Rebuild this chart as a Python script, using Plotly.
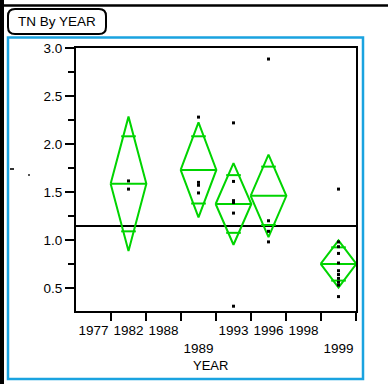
import plotly.graph_objects as go

# ---- data -------------------------------------------------------------
years = ["1977", "1982", "1988", "1989", "1993", "1996", "1998", "1999"]
year_labels = ["1977", "1982", "1988", "<br>1989", "1993", "1996", "1998", "<br>1999"]

# observed TN values by year (years with no samples are left empty)
tn_1982 = [1.615, 1.53]
tn_1989 = [2.28, 1.60, 1.57, 1.49]
tn_1993 = [2.22, 1.61, 1.41, 1.39, 1.28, 0.31]
tn_1996 = [2.885, 1.20, 1.09, 0.98]
tn_1999 = [1.53, 0.98, 0.93, 0.86, 0.76, 0.68, 0.64, 0.60, 0.56, 0.53, 0.41]
tn_by_year = {"1982": tn_1982, "1989": tn_1989, "1993": tn_1993,
              "1996": tn_1996, "1999": tn_1999}

# means diamonds: group mean and 95% CI half-width
diamond_years = ["1982", "1989", "1993", "1996", "1999"]
group_means = [1.585, 1.73, 1.375, 1.46, 0.75]
ci_half = [0.70, 0.495, 0.425, 0.43, 0.245]
grand_mean = 1.145

y_ticks = [0.5, 1.0, 1.5, 2.0, 2.5, 3.0]

# ---- layout geometry (pixels) ----------------------------------------
W, H = 388, 384
L, R, T, B = 76, 356, 48, 311


def px(x):
    return (x - L) / (R - L)


def py(y):
    return (B - y) / (B - T)


GREEN = "#00d400"
BLUE = "#1aa3e0"
pos = {y: i + 0.5 for i, y in enumerate(years)}
hw = 0.51  # diamond half-width in category units

fig = go.Figure()

# grand mean line
fig.add_trace(go.Scatter(x=[0, len(years)], y=[grand_mean, grand_mean], mode="lines",
                         line=dict(color="black", width=2), hoverinfo="skip"))

# means diamonds
k = 1 / 2 ** 0.5
for yr, m, c in zip(diamond_years, group_means, ci_half):
    xc = pos[yr]
    fig.add_trace(go.Scatter(
        x=[xc - hw, xc, xc + hw, xc, xc - hw, None, xc - hw, xc + hw],
        y=[m, m + c, m, m - c, m, None, m, m],
        mode="lines", line=dict(color=GREEN, width=2), hoverinfo="skip"))
    ow = hw * (1 - k) + 0.06
    fig.add_trace(go.Scatter(
        x=[xc - ow, xc + ow, None, xc - ow, xc + ow],
        y=[m + c * k, m + c * k, None, m - c * k, m - c * k],
        mode="lines", line=dict(color=GREEN, width=2), hoverinfo="skip"))

# raw observations
for yr, vals in tn_by_year.items():
    fig.add_trace(go.Scatter(x=[pos[yr]] * len(vals), y=vals, mode="markers",
                             marker=dict(symbol="square", size=3, color="black",
                                         line=dict(width=0))))

shapes = [
    # outer window frame
    dict(type="rect", xref="paper", yref="paper", x0=px(0), x1=px(4), y0=py(384), y1=py(0),
         fillcolor="black", line=dict(width=0), layer="below"),
    dict(type="line", xref="paper", yref="paper", x0=px(0), x1=px(388), y0=py(5.5), y1=py(5.5),
         line=dict(color="black", width=2.5)),
    dict(type="rect", xref="paper", yref="paper", x0=px(8), x1=px(363), y0=py(379), y1=py(37.5),
         line=dict(color=BLUE, width=2.5)),
    # small stray marks left of the axis
    dict(type="rect", xref="paper", yref="paper", x0=px(10), x1=px(14), y0=py(170), y1=py(168),
         fillcolor="#333", line=dict(width=0)),
    dict(type="rect", xref="paper", yref="paper", x0=px(28), x1=px(30), y0=py(176), y1=py(174),
         fillcolor="#555", line=dict(width=0)),
]

# rounded title box
x0, x1, y0, y1, r = 8, 106, 9, 34, 7
path = (f"M {px(x0 + r)},{py(y0)} L {px(x1 - r)},{py(y0)} Q {px(x1)},{py(y0)} {px(x1)},{py(y0 + r)} "
        f"L {px(x1)},{py(y1 - r)} Q {px(x1)},{py(y1)} {px(x1 - r)},{py(y1)} "
        f"L {px(x0 + r)},{py(y1)} Q {px(x0)},{py(y1)} {px(x0)},{py(y1 - r)} "
        f"L {px(x0)},{py(y0 + r)} Q {px(x0)},{py(y0)} {px(x0 + r)},{py(y0)} Z")
shapes.append(dict(type="path", xref="paper", yref="paper", path=path,
                   line=dict(color="black", width=2), fillcolor="white"))

annotations = [
    dict(text="TN By YEAR", xref="paper", yref="paper", x=px(57), y=py(21.5),
         showarrow=False, xanchor="center", yanchor="middle",
         font=dict(size=13.5, color="black")),
    dict(text="YEAR", xref="paper", yref="paper", x=px(210), y=py(365),
         showarrow=False, xanchor="center", yanchor="middle",
         font=dict(size=13, color="black")),
]

fig.update_layout(
    width=W, height=H,
    margin=dict(l=L, r=W - R, t=T, b=H - B, pad=0),
    paper_bgcolor="white", plot_bgcolor="white",
    showlegend=False,
    font=dict(family="Liberation Sans, Arial, sans-serif", size=13.5, color="black"),
    shapes=shapes, annotations=annotations,
    xaxis=dict(range=[0, len(years)], tickmode="array",
               tickvals=[pos[y] for y in years], ticktext=year_labels,
               ticks="", ticklabelstandoff=6,
               minor=dict(tickmode="array", tickvals=list(range(1, len(years) + 1)),
                          ticks="outside", ticklen=8, tickwidth=2, tickcolor="black"),
               showline=True, mirror=True, linecolor="black", linewidth=2,
               showgrid=False, zeroline=False, fixedrange=True),
    yaxis=dict(range=[0.26, 3.0], tickmode="array", tickvals=y_ticks,
               ticktext=[f"{v:.1f}" for v in y_ticks],
               ticks="outside", ticklen=9, tickwidth=2, tickcolor="black",
               minor=dict(tick0=0.25, dtick=0.5, ticks="outside", ticklen=6,
                          tickwidth=2, tickcolor="black"),
               showline=True, mirror=True, linecolor="black", linewidth=2,
               showgrid=False, zeroline=False, fixedrange=True),
)

fig.write_html("out.html")
